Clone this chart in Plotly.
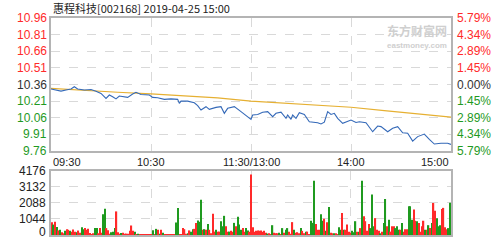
import plotly.graph_objects as go

# ---------------- data ----------------
title_text = "惠程科技[002168] 2019-04-25 15:00"
prev_close = 10.36
price_ticks = [10.96, 10.81, 10.66, 10.51, 10.36, 10.21, 10.06, 9.91, 9.76]
pct_ticks = ["5.79%", "4.34%", "2.89%", "1.45%", "0.00%", "1.45%", "2.89%", "4.34%", "5.79%"]
vol_ticks = [0, 1044, 2088, 3132, 4176]
time_ticks = [0, 60, 120, 180, 240]
time_labels = ["09:30", "10:30", "11:30/13:00", "14:00", "15:00"]

price_t = [0, 3, 6, 9, 12, 14, 16, 20, 24, 27, 30, 33, 35, 37, 39, 41, 44, 46, 49, 51, 54, 59,
           61, 64, 68, 72, 76, 77, 78, 82, 86, 88, 90, 93, 95, 99, 102, 104, 106, 110, 114, 118,
           120, 121, 124, 127, 130, 133, 135, 138, 141, 142, 144, 145, 147, 149, 152, 155, 160,
           162, 164, 166, 168, 170, 172, 175, 177, 180, 183, 185, 189, 193, 196, 198, 202, 205,
           208, 211, 214, 217, 220, 224, 227, 230, 234, 238, 240]
price_v = [10.32, 10.31, 10.30, 10.31, 10.32, 10.34, 10.32, 10.31, 10.315, 10.30, 10.28, 10.235,
           10.265, 10.25, 10.23, 10.256, 10.25, 10.244, 10.274, 10.29, 10.27, 10.265,
           10.244, 10.24, 10.226, 10.23, 10.226, 10.19, 10.21, 10.21, 10.195, 10.17, 10.13, 10.16,
           10.136, 10.154, 10.16, 10.10, 10.145, 10.16, 10.115, 10.07,
           10.046, 10.085, 10.09, 10.11, 10.115, 10.07, 10.10, 10.11, 10.055, 10.085, 10.046,
           10.085, 10.055, 10.105, 10.09, 10.024, 10.015,
           10.004, 10.02, 10.115, 10.09, 10.10, 10.055, 10.01, 10.024, 10.04, 10.018, 10.024,
           10.015, 9.934, 9.985, 9.98, 9.934, 9.965,
           9.98, 9.925, 9.92, 9.85, 9.89, 9.913, 9.865, 9.823, 9.83, 9.83, 9.82]

avg_t = [0, 20, 40, 60, 80, 100, 120, 140, 160, 180, 200, 220, 240]
avg_v = [10.325, 10.305, 10.29, 10.275, 10.26, 10.24, 10.21, 10.19, 10.175, 10.155, 10.125, 10.095, 10.065]

volume = [840, 680, 860, 520, 300, 340, 180, 110, 270, 380, 340, 270, 220, 360, 220, 180, 290, 150, 500, 380,
          450, 340, 400, 130, 70, 110, 450, 450, 110, 450, 150, 1360, 1720, 450, 310, 90, 180, 220, 450, 1540,
          180, 90, 130, 150, 90, 90, 90, 270, 620, 270, 220, 60, 80, 50, 40, 60, 40, 50, 40, 70,
          40, 310, 60, 400, 340, 90, 340, 150, 60, 50, 40, 50, 40, 60, 70, 820, 1760, 60, 40, 450,
          380, 80, 120, 300, 220, 380, 400, 790, 950, 860, 2300, 340, 380, 340, 720, 340, 110, 1390, 220, 340,
          220, 220, 900, 570, 1250, 570, 220, 220, 270, 220, 790, 570, 1190, 680, 340, 450, 220, 450, 300, 220,
          3950, 500, 220, 270, 300, 270, 300, 220, 270, 150, 90, 110, 60, 640, 150, 110, 110, 150, 60, 450,
          150, 340, 450, 220, 90, 840, 340, 150, 180, 110, 450, 270, 110, 220, 220, 60, 930, 790, 3540, 720,
          340, 340, 1360, 930, 1060, 270, 840, 1830, 150, 110, 110, 110, 60, 500, 340, 1430, 340, 340, 680, 220,
          150, 270, 180, 900, 220, 220, 450, 3540, 1220, 900, 270, 720, 450, 2640, 570, 1100, 340, 270, 110, 220,
          790, 2350, 570, 1000, 220, 570, 570, 450, 570, 340, 340, 790, 220, 380, 380, 1870, 1870, 1000, 1660, 930,
          900, 790, 220, 570, 930, 340, 340, 640, 450, 790, 2090, 1590, 1100, 570, 640, 1700, 1770, 500, 380, 450,
          2110]
vol_dir = "rgrgrgrrgrrgrrrgrrgg" \
          "rrrrrrggrrrggrrrgggr" \
          "rrgrrrrrrrgrgrrrrrrr" \
          "rgrgrgrgrrrrrrrggrrr" \
          "rrgrggrrgggrgrgrrrrg" \
          "rrgggrrgrrgrgggrrggr" \
          "rrrrrrrrrrgrrgrrrgrg" \
          "rggrrrgrrrgrrgrrgggr" \
          "rrggrgrgrrgrrggrgrrr" \
          "rgggrgrgrrrrgggrrrgr" \
          "ggrgrrrgggrgrrrgggrr" \
          "grrrrgrgrgrrgggrrrrg" \
          "g"

# ---------------- styling ----------------
RED = "#ff2a2a"
GREEN = "#1f9a1f"
BLACK = "#333333"
GRID = "#d9d9d9"
FRAME = "#b4b4b4"
FONT = "Liberation Sans"

minutes = list(range(len(volume)))
bar_colors = [RED if d == "r" else GREEN for d in vol_dir[:len(volume)]]

fig = go.Figure()
fig.add_trace(go.Scatter(x=avg_t, y=avg_v, mode="lines", line=dict(color="#e6b032", width=1.2),
                         xaxis="x", yaxis="y", hoverinfo="skip"))
fig.add_trace(go.Scatter(x=price_t, y=price_v, mode="lines", line=dict(color="#3469b8", width=1.1),
                         xaxis="x", yaxis="y", hoverinfo="skip"))
fig.add_trace(go.Bar(x=minutes, y=volume, marker=dict(color=bar_colors, line=dict(width=0)),
                     xaxis="x2", yaxis="y2", hoverinfo="skip"))

axis_common = dict(showline=True, mirror=True, linecolor=FRAME, linewidth=2, zeroline=False,
                   showticklabels=False, ticks="")
fig.update_layout(
    width=502, height=240,
    margin=dict(l=51, r=51, t=18, b=5),
    paper_bgcolor="white", plot_bgcolor="white",
    showlegend=False, bargap=0.25,
    font=dict(family=FONT, size=11, color=BLACK),
    xaxis=dict(domain=[0, 1], range=[0, 240], tickvals=time_ticks[1:-1], showgrid=True,
               gridcolor=GRID, griddash="dash", gridwidth=1, anchor="y", **axis_common),
    yaxis=dict(domain=[0.387, 1], range=[price_ticks[-1], price_ticks[0]], tickvals=price_ticks[1:-1],
               showgrid=True, gridcolor=GRID, griddash="dash", gridwidth=1, anchor="x", **axis_common),
    xaxis2=dict(domain=[0, 1], range=[-0.5, 240.5], tickvals=time_ticks[1:-1], showgrid=True,
                gridcolor=GRID, griddash="dash", gridwidth=1, anchor="y2", **axis_common),
    yaxis2=dict(domain=[0, 0.295], range=[0, vol_ticks[-1]], tickvals=vol_ticks[1:-1], showgrid=True,
                gridcolor=GRID, griddash="dash", gridwidth=1, anchor="x2", **axis_common),
)

ann = []
# title
ann.append(dict(text=title_text, xref="paper", yref="paper", x=0, y=1, yshift=10, xanchor="left",
                yanchor="middle", showarrow=False,
                font=dict(family="Noto Sans CJK SC", size=11, color="#222")))
# price + percent labels
for i, p in enumerate(price_ticks):
    if p > prev_close + 1e-9:
        col = RED
    elif p < prev_close - 1e-9:
        col = GREEN
    else:
        col = BLACK
    ann.append(dict(text=f"{p:.2f}", xref="paper", yref="y", x=0, y=p, xshift=-2, xanchor="right",
                    yanchor="middle", showarrow=False, font=dict(size=12, color=col, family=FONT)))
    ann.append(dict(text=pct_ticks[i], xref="paper", yref="y", x=1, y=p, xshift=4, xanchor="left",
                    yanchor="middle", showarrow=False, font=dict(size=12, color=col, family=FONT)))
# time labels
for t, lab in zip(time_ticks, time_labels):
    xa = "left" if t == 0 else ("right" if t == 240 else "center")
    ann.append(dict(text=lab, xref="x", yref="paper", x=t, y=0.387, yshift=-3, xanchor=xa,
                    yanchor="top", showarrow=False, font=dict(size=11, color="#222", family=FONT)))
# volume labels
for v in vol_ticks:
    ann.append(dict(text=str(v), xref="paper", yref="y2", x=0, y=v, xshift=-3,
                    yshift=(3 if v == 0 else 0), xanchor="right",
                    yanchor="middle", showarrow=False, font=dict(size=12, color="#222", family=FONT)))
# watermark
ann.append(dict(text="<b>东方财富网</b>", xref="paper", yref="paper", x=1, y=1, xshift=-2, yshift=-2,
                xanchor="right", yanchor="top", showarrow=False,
                font=dict(family="Noto Sans CJK SC", size=12, color="#cfcfcf")))
ann.append(dict(text="<b>eastmoney.com</b>", xref="paper", yref="paper", x=1, y=1, xshift=-2, yshift=-21,
                xanchor="right", yanchor="top", showarrow=False,
                font=dict(family=FONT, size=8, color="#cfcfcf")))
fig.update_layout(annotations=ann)

fig.write_html("out.html")
